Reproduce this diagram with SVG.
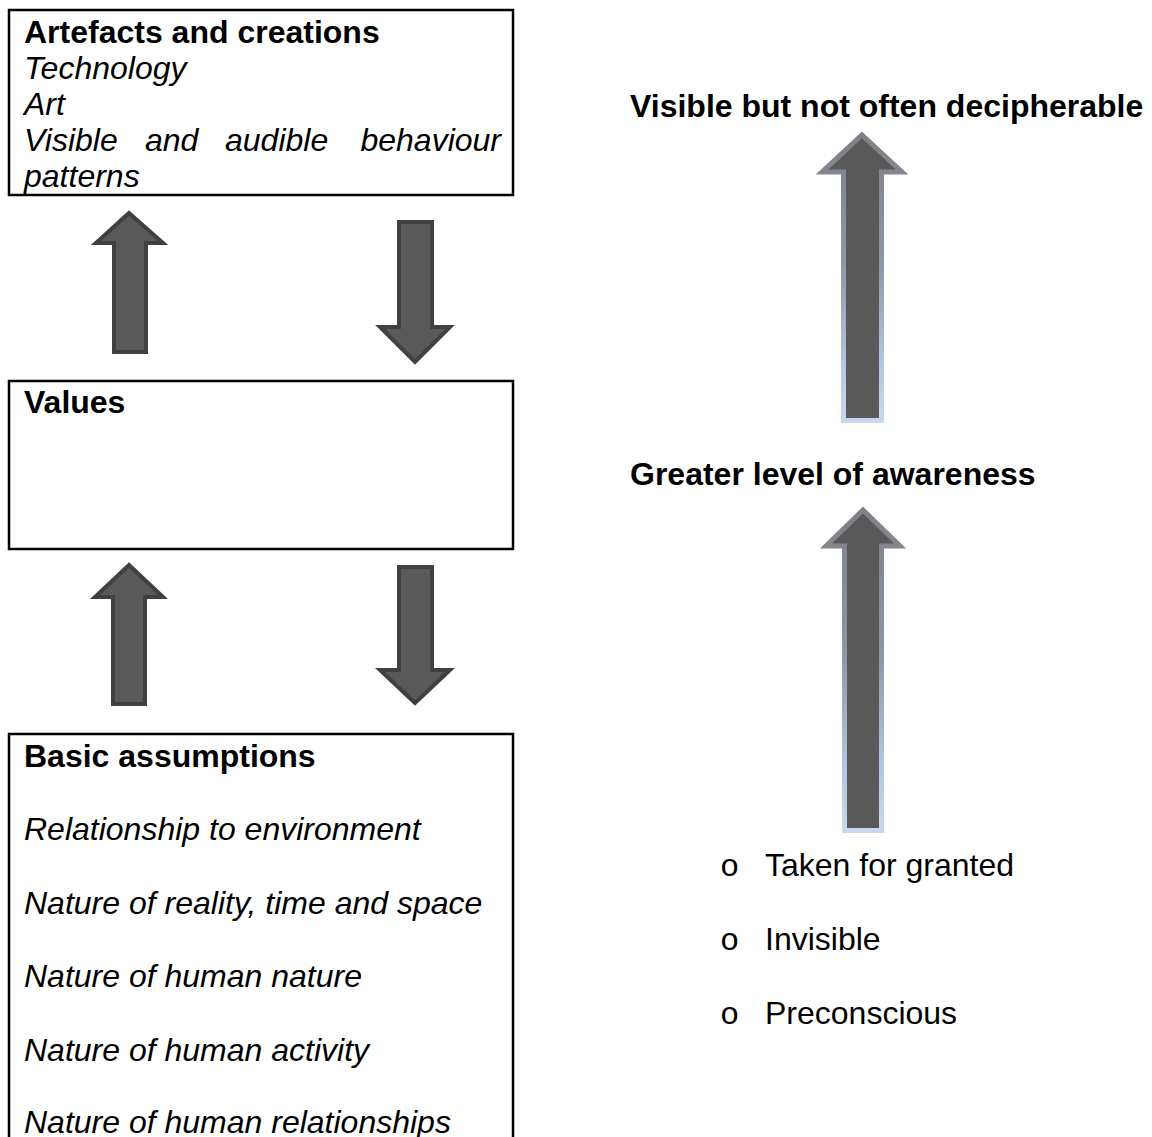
<svg xmlns="http://www.w3.org/2000/svg" width="1152" height="1137" viewBox="0 0 1152 1137">
  <style>
    text { font-family: "Liberation Sans", Arial, sans-serif; font-size: 32px; fill: #000; }
    .b { font-weight: bold; }
    .i { font-style: italic; }
    .bullet { font-family: "Liberation Mono", "Courier New", monospace; font-size: 32px; }
    .box { fill: #fff; stroke: #000; stroke-width: 2.5; }
    .small-arrow { fill: #595959; stroke: #404040; stroke-width: 4; stroke-linejoin: miter; }
    .big-arrow { fill: #595959; stroke-width: 5; stroke-linejoin: miter; }
  </style>
  <defs>
    <linearGradient id="edge1" gradientUnits="userSpaceOnUse" x1="0" y1="131" x2="0" y2="424">
      <stop offset="0" stop-color="#7e8085"/>
      <stop offset="0.45" stop-color="#8d97a6"/>
      <stop offset="0.8" stop-color="#b3c7e3"/>
      <stop offset="1" stop-color="#c9d8ec"/>
    </linearGradient>
    <linearGradient id="edge2" gradientUnits="userSpaceOnUse" x1="0" y1="506" x2="0" y2="834">
      <stop offset="0" stop-color="#7e8085"/>
      <stop offset="0.45" stop-color="#8d97a6"/>
      <stop offset="0.8" stop-color="#b3c7e3"/>
      <stop offset="1" stop-color="#c9d8ec"/>
    </linearGradient>
  </defs>

  <rect width="1152" height="1137" fill="#fff"/>

  <!-- Top layer: artefacts -->
  <g id="artefacts">
    <rect class="box" x="9" y="10" width="504" height="185"/>
    <text class="b" x="24" y="43">Artefacts and creations</text>
    <text class="i" x="24" y="79">Technology</text>
    <text class="i" x="24" y="115">Art</text>
    <!-- justified line: words spread across the box width -->
    <text class="i" x="24" y="151">Visible</text>
    <text class="i" x="145" y="151">and</text>
    <text class="i" x="225" y="151">audible</text>
    <text class="i" x="501" y="151" text-anchor="end">behaviour</text>
    <text class="i" x="24" y="187">patterns</text>
  </g>

  <!-- Middle layer: values -->
  <g id="values">
    <rect class="box" x="9" y="381" width="504" height="168"/>
    <text class="b" x="24" y="413">Values</text>
  </g>

  <!-- Bottom layer: basic assumptions (runs past the lower edge) -->
  <g id="assumptions">
    <rect class="box" x="9" y="734" width="504" height="420"/>
    <text class="b" x="24" y="767">Basic assumptions</text>
    <text class="i" x="24" y="840">Relationship to environment</text>
    <text class="i" x="24" y="914">Nature of reality, time and space</text>
    <text class="i" x="24" y="987">Nature of human nature</text>
    <text class="i" x="24" y="1061">Nature of human activity</text>
    <text class="i" x="24" y="1133">Nature of human relationships</text>
  </g>

  <!-- Awareness scale labels -->
  <g id="visible-label">
    <text class="b" x="630" y="117">Visible but not often decipherable</text>
  </g>
  <g id="awareness-label">
    <text class="b" x="630" y="485">Greater level of awareness</text>
  </g>
  <g id="hidden-list">
    <text class="bullet" x="720" y="876">o</text>
    <text x="765" y="876">Taken for granted</text>
    <text class="bullet" x="720" y="950">o</text>
    <text x="765" y="950">Invisible</text>
    <text class="bullet" x="720" y="1024">o</text>
    <text x="765" y="1024">Preconscious</text>
  </g>

  <!-- Block arrows -->
  <g id="connectors">
    <path class="small-arrow" d="M129,213 L163,243 L146,243 L146,352 L114,352 L114,243 L96,243 Z"/>
    <path class="small-arrow" d="M399,222 L432,222 L432,327 L450,327 L415,362 L380,327 L399,327 Z"/>
    <path class="small-arrow" d="M129,565 L163,597 L145,597 L145,704 L113,704 L113,597 L95,597 Z"/>
    <path class="small-arrow" d="M399,567 L432,567 L432,670 L450,670 L415,703 L380,670 L399,670 Z"/>
    <path class="big-arrow" stroke="url(#edge1)" d="M862,135 L902,172 L881.5,172 L881.5,420.5 L843.5,420.5 L843.5,172 L822,172 Z"/>
    <path class="big-arrow" stroke="url(#edge2)" d="M863,510 L900,546 L881.5,546 L881.5,830.5 L844.5,830.5 L844.5,546 L826,546 Z"/>
  </g>
</svg>
